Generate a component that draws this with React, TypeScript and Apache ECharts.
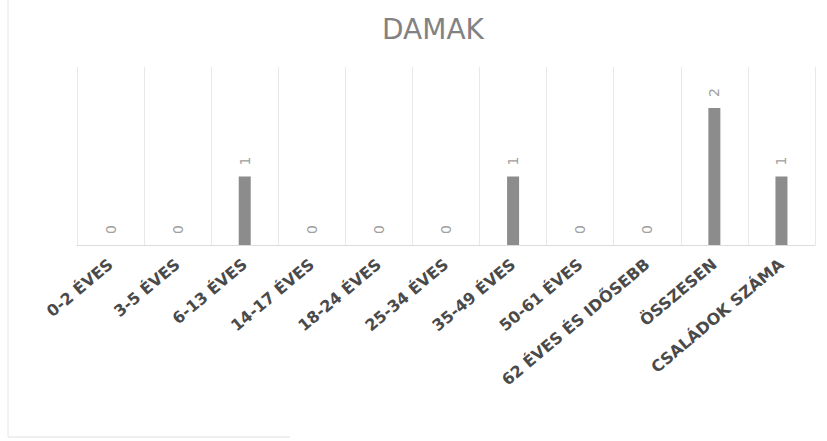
import React, { useEffect, useRef } from "react";
import * as echarts from "echarts";

const categories = [
  "0-2 ÉVES",
  "3-5 ÉVES",
  "6-13 ÉVES",
  "14-17 ÉVES",
  "18-24 ÉVES",
  "25-34 ÉVES",
  "35-49 ÉVES",
  "50-61 ÉVES",
  "62 ÉVES ÉS IDŐSEBB",
  "ÖSSZESEN",
  "CSALÁDOK SZÁMA",
];
const values = [0, 0, 1, 0, 0, 0, 1, 0, 0, 2, 1];
const titleText = "DAMAK";

export default function App() {
  const ref = useRef<HTMLDivElement>(null);
  useEffect(() => {
    if (!ref.current) return;
    const chart = echarts.init(ref.current, null, { renderer: "svg" });
    chart.setOption({
      animation: false,
      backgroundColor: "#ffffff",
      title: {
        text: titleText,
        left: 428,
        textAlign: "center",
        top: 10,
        textStyle: {
          fontFamily: "DejaVu Sans",
          fontSize: 28,
          fontWeight: "normal",
          color: "#828282",
        },
      },
      grid: { left: 77, right: 12, top: 67, bottom: 196, containLabel: false },
      xAxis: {
        type: "category",
        data: categories,
        boundaryGap: true,
        axisLine: { show: true, lineStyle: { color: "#dcdcdc", width: 1 } },
        axisTick: { show: false },
        splitLine: { show: true, lineStyle: { color: "#e8e8e8", width: 1 } },
        axisLabel: {
          interval: 0,
          rotate: 40,
          margin: 17,
          fontFamily: "DejaVu Sans",
          fontWeight: "bold",
          fontSize: 16,
          color: "#4a4a4a",
        },
      },
      yAxis: {
        type: "value",
        min: 0,
        max: 2.6,
        show: false,
        splitLine: { show: false },
      },
      series: [
        {
          type: "bar",
          data: values,
          barWidth: 12,
          itemStyle: {
            color: "#8c8c8c",
            borderWidth: 0,
          },
          label: {
            show: true,
            position: "top",
            rotate: 90,
            distance: 11,
            align: "left",
            verticalAlign: "middle",
            fontFamily: "DejaVu Sans",
            fontSize: 14,
            color: "#a0a0a0",
          },
        },
      ],
      graphic: [
        {
          type: "line",
          shape: { x1: 8, y1: 0, x2: 8, y2: 437 },
          style: { stroke: "#e6e6e6", lineWidth: 1 },
          silent: true,
        },
        {
          type: "line",
          shape: { x1: 8, y1: 437, x2: 290, y2: 437 },
          style: { stroke: "#e0e0e0", lineWidth: 1 },
          silent: true,
        },
      ],
    });
    return () => chart.dispose();
  }, []);
  return (
    <div
      ref={ref}
      style={{ position: "fixed", left: 0, top: 0, width: 827, height: 441 }}
    />
  );
}
